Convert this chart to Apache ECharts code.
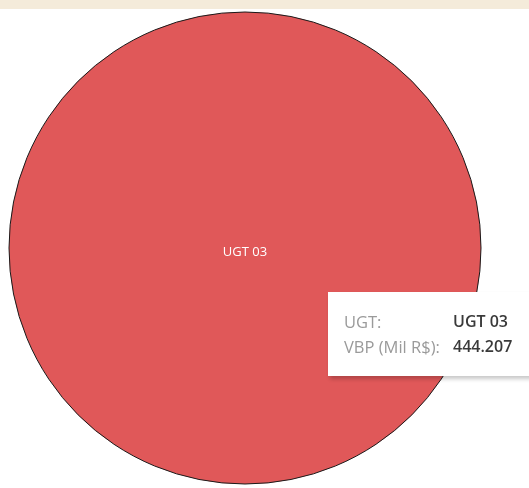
<!DOCTYPE html>
<html>
<head>
<meta charset="utf-8">
<script src="https://cdn.jsdelivr.net/npm/echarts@6/dist/echarts.min.js"></script>
<style>
  html, body { margin: 0; padding: 0; background: #ffffff; overflow: hidden; }
  #chart { width: 529px; height: 488px; }
</style>
</head>
<body>
<div id="chart"></div>
<script>
// Production value by management unit
const categories = ['UGT 03'];
const values = [444207];
const fieldNames = ['UGT:', 'VBP (Mil R$):'];

// pt-BR thousands grouping with dots
function fmtBR(n) {
  return String(Math.round(n)).replace(/\B(?=(\d{3})+(?!\d))/g, '.');
}

const chart = echarts.init(document.getElementById('chart'), null, { renderer: 'canvas' });

chart.setOption({
  animation: false,
  backgroundColor: '#ffffff',
  graphic: [{
    type: 'rect',
    left: 0, top: 0,
    shape: { width: 529, height: 9 },
    style: { fill: '#f4ebda' },
    z: 0
  }],
  tooltip: {
    trigger: 'item',
    alwaysShowContent: true,
    transitionDuration: 0,
    backgroundColor: '#ffffff',
    borderWidth: 0,
    padding: [17, 40, 17, 16],
    extraCssText: 'border-radius:0;box-shadow:2px 3px 4px rgba(0,0,0,0.22);',
    position: function () { return [328, 292]; },
    formatter: function (p) {
      const row = (k, v) =>
        '<tr><td style="color:#9a9a9a;width:109px;padding:0;white-space:nowrap;font-size:16.5px;">' + k + '</td>' +
        '<td style="color:#3a3a3a;font-weight:600;padding:0;">' + v + '</td></tr>';
      return '<table style="border-collapse:collapse;font-family:\'Open Sans\',sans-serif;font-size:16px;line-height:25px;">' +
        row(fieldNames[0], p.name) +
        row(fieldNames[1], fmtBR(p.value)) +
        '</table>';
    }
  },
  series: [{
    type: 'pie',
    center: [245, 248],
    radius: 236,
    startAngle: 90,
    emphasis: { disabled: true },
    itemStyle: {
      color: '#e05859',
      borderColor: '#1a1a1a',
      borderWidth: 1
    },
    label: {
      show: true,
      position: 'center',
      color: '#ffffff',
      fontFamily: 'Open Sans',
      fontSize: 13,
      offset: [0, 4],
      formatter: '{b}'
    },
    labelLine: { show: false },
    data: categories.map((c, i) => ({ name: c, value: values[i] }))
  }]
});

chart.dispatchAction({ type: 'showTip', seriesIndex: 0, dataIndex: 0 });
</script>
</body>
</html>
